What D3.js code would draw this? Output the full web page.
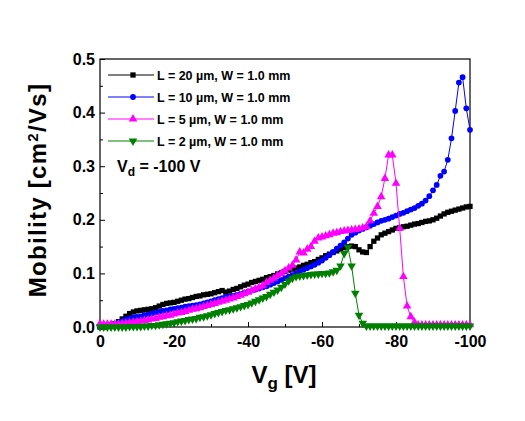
<!DOCTYPE html>
<html>
<head>
<meta charset="utf-8">
<script src="https://cdn.jsdelivr.net/npm/d3@7"></script>
<style>
  html, body { margin: 0; padding: 0; background: #fff; }
  svg { display: block; }
  text { font-family: "Liberation Sans", Arial, sans-serif; font-weight: bold; fill: #000; }
</style>
</head>
<body>
<svg id="chart" width="525" height="421"></svg>
<script>
// Gate voltage sweep (V)
const vg = [0,-1,-2,-3,-4,-5,-6,-7,-8,-9,
  -10,-11,-12,-13,-14,-15,-16,-17,-18,-19,
  -20,-21,-22,-23,-24,-25,-26,-27,-28,-29,
  -30,-31,-32,-33,-34,-35,-36,-37,-38,-39,
  -40,-41,-42,-43,-44,-45,-46,-47,-48,-49,
  -50,-51,-52,-53,-54,-55,-56,-57,-58,-59,
  -60,-61,-62,-63,-64,-65,-66,-67,-68,-69,
  -70,-71,-72,-73,-74,-75,-76,-77,-78,-79,
  -80,-81,-82,-83,-84,-85,-86,-87,-88,-89,
  -90,-91,-92,-93,-94,-95,-96,-97,-98,-99,
  -100];

// Mobility (cm^2/Vs) for each channel length
const muL20 = [0.000,0.000,0.001,0.003,0.006,0.010,0.015,0.020,0.025,0.028,
  0.030,0.031,0.032,0.033,0.034,0.036,0.039,0.042,0.044,0.045,
  0.046,0.048,0.050,0.052,0.053,0.055,0.057,0.058,0.060,0.061,
  0.062,0.064,0.066,0.068,0.065,0.067,0.070,0.072,0.075,0.078,
  0.080,0.083,0.085,0.087,0.089,0.092,0.094,0.096,0.099,0.101,
  0.104,0.106,0.108,0.110,0.112,0.115,0.117,0.120,0.122,0.126,
  0.129,0.133,0.136,0.139,0.142,0.145,0.148,0.150,0.151,0.150,
  0.144,0.140,0.139,0.150,0.160,0.166,0.172,0.175,0.178,0.181,
  0.184,0.185,0.187,0.188,0.190,0.192,0.193,0.195,0.197,0.198,
  0.200,0.203,0.207,0.211,0.214,0.216,0.218,0.220,0.222,0.224,
  0.225];

const muL10 = [0.000,0.001,0.002,0.004,0.006,0.008,0.011,0.014,0.016,0.018,
  0.019,0.020,0.022,0.023,0.025,0.027,0.028,0.030,0.031,0.033,
  0.034,0.035,0.036,0.038,0.039,0.040,0.041,0.042,0.044,0.046,
  0.048,0.050,0.052,0.054,0.056,0.057,0.058,0.060,0.062,0.064,
  0.066,0.068,0.070,0.072,0.074,0.076,0.079,0.082,0.085,0.088,
  0.091,0.094,0.097,0.100,0.104,0.107,0.110,0.113,0.116,0.120,
  0.124,0.129,0.134,0.140,0.146,0.152,0.158,0.165,0.172,0.176,
  0.180,0.183,0.186,0.189,0.192,0.195,0.198,0.200,0.202,0.205,
  0.208,0.211,0.213,0.216,0.219,0.222,0.226,0.230,0.236,0.244,
  0.255,0.265,0.282,0.290,0.312,0.352,0.403,0.456,0.466,0.408,
  0.368];

const muL5 = [0.006,0.005,0.005,0.005,0.005,0.005,0.006,0.007,0.008,0.009,
  0.010,0.011,0.012,0.013,0.015,0.016,0.018,0.019,0.021,0.022,
  0.024,0.026,0.027,0.029,0.031,0.033,0.034,0.036,0.038,0.040,
  0.042,0.044,0.046,0.048,0.050,0.052,0.054,0.057,0.059,0.062,
  0.065,0.068,0.071,0.074,0.077,0.083,0.087,0.091,0.096,0.100,
  0.105,0.110,0.115,0.125,0.140,0.138,0.145,0.150,0.160,0.166,
  0.168,0.170,0.172,0.175,0.176,0.178,0.179,0.180,0.181,0.182,
  0.183,0.185,0.187,0.198,0.212,0.225,0.243,0.277,0.321,0.321,
  0.268,0.184,0.094,0.039,0.019,0.009,0.004,0.004,0.004,0.004,
  0.004,0.004,0.004,0.004,0.004,0.004,0.004,0.004,0.004,0.004,
  0.004];

const muL2 = [0.000,0.000,0.000,0.000,0.000,0.000,0.000,0.000,0.001,0.001,
  0.001,0.001,0.002,0.002,0.003,0.003,0.004,0.005,0.006,0.007,
  0.008,0.010,0.011,0.012,0.014,0.015,0.016,0.018,0.019,0.021,
  0.023,0.025,0.027,0.029,0.031,0.032,0.034,0.036,0.038,0.040,
  0.042,0.045,0.048,0.051,0.054,0.057,0.061,0.065,0.069,0.074,
  0.080,0.086,0.091,0.094,0.095,0.096,0.097,0.098,0.099,0.099,
  0.100,0.100,0.101,0.103,0.106,0.114,0.137,0.149,0.114,0.063,
  0.022,0.007,0.002,0.002,0.002,0.002,0.002,0.002,0.002,0.002,
  0.002,0.002,0.002,0.002,0.002,0.002,0.002,0.002,0.002,0.002,
  0.002,0.002,0.002,0.002,0.002,0.002,0.002,0.002,0.002,0.002,
  0.002];

const seriesNames = ["L = 20 \u00B5m, W = 1.0 mm", "L = 10 \u00B5m, W = 1.0 mm",
                     "L = 5 \u00B5m, W = 1.0 mm", "L = 2 \u00B5m, W = 1.0 mm"];
const seriesColors = ["#000000", "#0000ff", "#ff00ff", "#008000"];

const xTicks = [0, -20, -40, -60, -80, -100];
const xTickLabels = ["0", "-20", "-40", "-60", "-80", "-100"];
const xMinorTicks = [-10, -30, -50, -70, -90];
const yTicks = [0, 0.1, 0.2, 0.3, 0.4, 0.5];
const yTickLabels = ["0.0", "0.1", "0.2", "0.3", "0.4", "0.5"];
const yMinorTicks = [0.05, 0.15, 0.25, 0.35, 0.45];

(function () {
const svg = d3.select("#chart");
const pL = 100, pR = 470, pT = 59, pB = 327;

const x = d3.scaleLinear().domain([0, -100]).range([pL, pR]);
const y = d3.scaleLinear().domain([0, 0.5]).range([pB, pT]);

// frame
svg.append("rect").attr("x", pL).attr("y", pT)
  .attr("width", pR - pL).attr("height", pB - pT)
  .attr("fill", "none").attr("stroke", "#000").attr("stroke-width", 1.2);

// axes
const xAxis = d3.axisBottom(x).tickValues(xTicks)
  .tickFormat((d, i) => xTickLabels[i]).tickSize(-5).tickPadding(9);
const gx = svg.append("g").attr("transform", `translate(0,${pB})`).call(xAxis);
const xMinor = d3.axisBottom(x).tickValues(xMinorTicks).tickFormat("").tickSize(-3);
const gxm = svg.append("g").attr("transform", `translate(0,${pB})`).call(xMinor);

const yAxis = d3.axisLeft(y).tickValues(yTicks)
  .tickFormat((d, i) => yTickLabels[i]).tickSize(-5).tickPadding(5);
const gy = svg.append("g").attr("transform", `translate(${pL},0)`).call(yAxis);
const yMinor = d3.axisLeft(y).tickValues(yMinorTicks).tickFormat("").tickSize(-3);
const gym = svg.append("g").attr("transform", `translate(${pL},0)`).call(yMinor);

[gx, gxm, gy, gym].forEach(g => {
  g.select(".domain").remove();
  g.selectAll("line").attr("stroke", "#000").attr("stroke-width", 1);
  g.selectAll("text").style("font-family", '"Liberation Sans", Arial, sans-serif')
    .style("font-weight", "bold").style("font-size", "16px").attr("fill", "#000");
});

// data
const allSeries = [muL20, muL10, muL5, muL2];
const symbols = [
  d3.symbol().type(d3.symbolSquare).size(28),
  d3.symbol().type(d3.symbolCircle).size(26),
  d3.symbol().type(d3.symbolTriangle).size(32),
  d3.symbol().type(d3.symbolTriangle).size(32)
];
const rotations = [0, 0, 0, 180];

const plot = svg.append("g");
const line = d3.line().x(d => x(d[0])).y(d => y(d[1]));

allSeries.forEach((vals, si) => {
  const pts = vg.map((v, i) => [v, vals[i]]);
  const g = plot.append("g");
  g.append("path").datum(pts).attr("d", line)
    .attr("fill", "none").attr("stroke", seriesColors[si]).attr("stroke-width", 1);
  g.selectAll("path.pt").data(pts).enter().append("path").attr("class", "pt")
    .attr("d", symbols[si])
    .attr("transform", d => `translate(${x(d[0])},${y(d[1])}) rotate(${rotations[si]})`)
    .attr("fill", seriesColors[si]);
});

// legend
const legRows = [75, 97, 119, 141];
seriesNames.forEach((name, si) => {
  const g = svg.append("g").attr("transform", `translate(0,${legRows[si]})`);
  g.append("line").attr("x1", 108).attr("x2", 154).attr("y1", 0).attr("y2", 0)
    .attr("stroke", seriesColors[si]).attr("stroke-width", 1);
  g.append("path").attr("d", symbols[si])
    .attr("transform", `translate(133,0) rotate(${rotations[si]})`)
    .attr("fill", seriesColors[si]);
  g.append("text").attr("x", 157).attr("y", 0).attr("dy", "0.36em")
    .style("font-size", "12.5px").text(name);
});

// Vd annotation
const vd = svg.append("text").attr("x", 117).attr("y", 172).style("font-size", "16px");
vd.append("tspan").text("V");
vd.append("tspan").attr("baseline-shift", "-30%").style("font-size", "12px").text("d");
vd.append("tspan").text(" = -100 V");

// axis titles
const xt = svg.append("text").attr("x", 284).attr("y", 383)
  .attr("text-anchor", "middle").style("font-size", "24px");
xt.append("tspan").text("V");
xt.append("tspan").attr("baseline-shift", "-35%").style("font-size", "17px").text("g");
xt.append("tspan").text(" [V]");

const yt = svg.append("text")
  .attr("transform", "translate(46,190) rotate(-90)")
  .attr("text-anchor", "middle").style("font-size", "24px")
  .style("letter-spacing", "1.3px");
yt.append("tspan").text("Mobility [cm");
yt.append("tspan").attr("baseline-shift", "super").style("font-size", "15px").text("2");
yt.append("tspan").text("/Vs]");
})();
</script>
</body>
</html>
